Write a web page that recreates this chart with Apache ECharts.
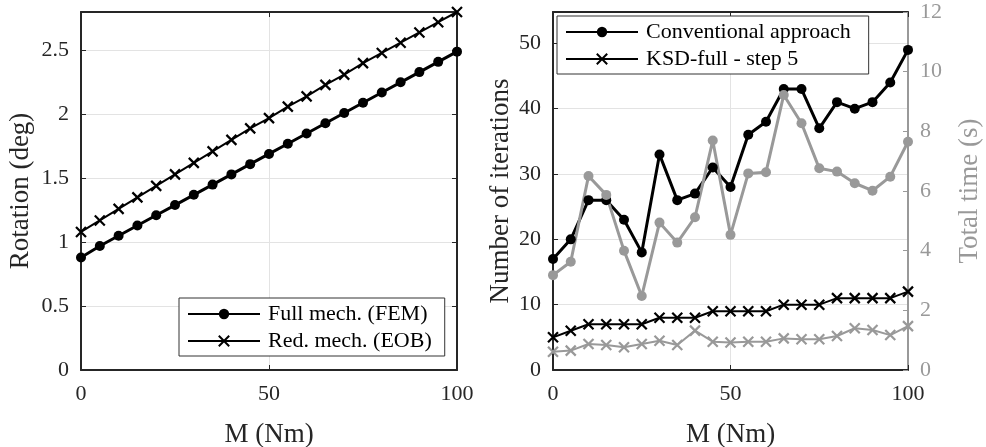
<!DOCTYPE html>
<html>
<head>
<meta charset="utf-8">
<script src="https://cdn.jsdelivr.net/npm/echarts@6/dist/echarts.min.js"></script>
<style>
html,body{margin:0;padding:0;background:#fff;}
#chart{width:986px;height:447px;}
</style>
</head>
<body>
<div id="chart"></div>
<script>
// ---- data ----
const M = [0,5,10,15,20,25,30,35,40,45,50,55,60,65,70,75,80,85,90,95,100];
const fullMech = [0.88,0.97,1.05,1.13,1.21,1.29,1.37,1.45,1.53,1.61,1.69,1.77,1.85,1.93,2.01,2.09,2.17,2.25,2.33,2.41,2.49];
const redMech  = [1.08,1.17,1.26,1.35,1.44,1.53,1.62,1.71,1.80,1.89,1.97,2.06,2.14,2.23,2.31,2.40,2.48,2.56,2.64,2.72,2.80];
const convIter = [17,20,26,26,23,18,33,26,27,31,28,36,38,43,43,37,41,40,41,44,49];
const convTime = [3.18,3.63,6.50,5.87,4.00,2.48,4.94,4.27,5.12,7.69,4.53,6.59,6.63,9.22,8.27,6.76,6.65,6.26,6.01,6.48,7.65];
const ksdIter  = [5,6,7,7,7,7,8,8,8,9,9,9,9,10,10,10,11,11,11,11,12];
const ksdTime  = [0.61,0.65,0.87,0.84,0.76,0.87,0.98,0.84,1.32,0.95,0.92,0.95,0.95,1.06,1.03,1.03,1.14,1.40,1.34,1.17,1.47];
const names = ['Full mech. (FEM)','Red. mech. (EOB)','Conventional approach','KSD-full - step 5'];
const xTitle = 'M (Nm)';
const yTitles = ['Rotation (deg)','Number of iterations','Total time (s)'];

function pairs(ys){ return M.map((m,i)=>[m, ys[i]]); }

const FONT = 'Liberation Serif';
const AX = '#262626';
const GRAY = '#999999';
const GRID = '#e3e3e3';
const XSYM = 'path://M0,0L10,10M10,0L0,10';

function xAx(gi, top, withName){
  return {
    type:'value', gridIndex:gi, min:0, max:100, interval:50, position: top?'top':'bottom',
    name: withName?xTitle:'', nameLocation:'middle', nameGap:51,
    nameTextStyle:{fontFamily:FONT,fontSize:27,color:AX},
    axisLine:{show:true,onZero:false,lineStyle:{color:AX,width:2}},
    axisTick:{show:true,inside:true,length:5,lineStyle:{color:AX,width:1}},
    axisLabel:{show:!top,fontFamily:FONT,fontSize:22,color:AX,margin:13},
    splitLine:{show:!top,lineStyle:{color:GRID,width:1}}
  };
}
function yAx(gi, opts){
  const col = opts.color||AX;
  return {
    type:'value', gridIndex:gi, min:0, max:opts.max, interval:opts.interval,
    position: opts.right?'right':'left',
    name: opts.name||'', nameLocation:'middle', nameGap:opts.gap||48,
    nameTextStyle:{fontFamily:FONT,fontSize:27,color:col},
    axisLine:{show:true,onZero:false,lineStyle:{color:col,width:2}},
    axisTick:{show:true,inside:true,length:5,lineStyle:{color:col,width:1}},
    axisLabel:{show:opts.labels!==false,fontFamily:FONT,fontSize:22,color:col,margin:12,showMaxLabel:opts.showMax===true},
    splitLine:{show:!!opts.split,lineStyle:{color:GRID,width:1}}
  };
}

const legendBase = {
  orient:'vertical', itemWidth:72, itemHeight:13, itemGap:5,
  backgroundColor:'#fff', borderColor:'#333', borderWidth:1, borderRadius:0,
  textStyle:{fontFamily:FONT,fontSize:22,color:'#000',padding:[0,0,0,3]}
};

const option = {
  animation:false,
  backgroundColor:'#fff',
  grid:[
    {left:81, top:12, width:376, height:358, outerBoundsMode:'none', containLabel:false},
    {left:553, top:12, width:355, height:358, outerBoundsMode:'none', containLabel:false}
  ],
  xAxis:[ xAx(0,false,true), xAx(0,true,false), xAx(1,false,true), xAx(1,true,false) ],
  yAxis:[
    yAx(0,{max:2.8,interval:0.5,name:yTitles[0],gap:47,split:true}),
    yAx(0,{max:2.8,interval:0.5,right:true,labels:false}),
    yAx(1,{max:54.8,interval:10,name:yTitles[1],gap:39,split:true}),
    yAx(1,{max:12,interval:2,right:true,name:yTitles[2],gap:48,color:GRAY,showMax:true})
  ],
  legend:[
    Object.assign({}, legendBase, {left:179, top:298, padding:[5,13,4,8], data:[names[0],names[1]]}),
    Object.assign({}, legendBase, {left:557, top:16, padding:[5,18,4,8], data:[names[2],names[3]]})
  ],
  series:[
    {name:names[0], type:'line', xAxisIndex:0, yAxisIndex:0, data:pairs(fullMech),
     symbol:'circle', symbolSize:10, lineStyle:{color:'#000',width:3}, itemStyle:{color:'#000'}},
    {name:names[1], type:'line', xAxisIndex:0, yAxisIndex:0, data:pairs(redMech),
     symbol:XSYM, symbolSize:10, lineStyle:{color:'#000',width:2},
     itemStyle:{color:'rgba(0,0,0,0)',borderColor:'#000',borderWidth:2.2}},
    {name:names[2], type:'line', xAxisIndex:2, yAxisIndex:2, data:pairs(convIter),
     symbol:'circle', symbolSize:10, lineStyle:{color:'#000',width:3}, itemStyle:{color:'#000'}},
    {name:names[3], type:'line', xAxisIndex:2, yAxisIndex:2, data:pairs(ksdIter),
     symbol:XSYM, symbolSize:10, lineStyle:{color:'#000',width:2},
     itemStyle:{color:'rgba(0,0,0,0)',borderColor:'#000',borderWidth:2.2}},
    {name:'time-conv', type:'line', xAxisIndex:2, yAxisIndex:3, data:pairs(convTime),
     symbol:'circle', symbolSize:10, lineStyle:{color:GRAY,width:3}, itemStyle:{color:GRAY}},
    {name:'time-ksd', type:'line', xAxisIndex:2, yAxisIndex:3, data:pairs(ksdTime),
     symbol:XSYM, symbolSize:10, lineStyle:{color:GRAY,width:2},
     itemStyle:{color:'rgba(0,0,0,0)',borderColor:GRAY,borderWidth:2.2}}
  ]
};
const chart = echarts.init(document.getElementById('chart'), null, {renderer:'canvas'});
chart.setOption(option);
</script>
</body>
</html>
